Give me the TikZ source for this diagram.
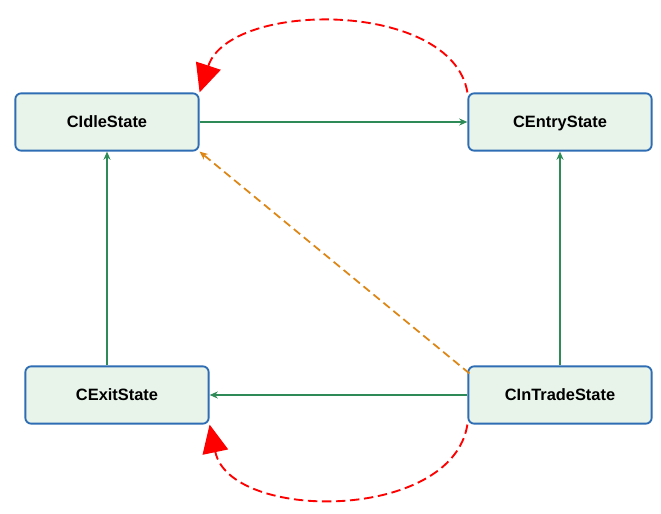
\documentclass[tikz,border=0pt]{standalone}
\usepackage{fontspec}
\setmainfont{Liberation Sans}
\usetikzlibrary{arrows.meta,positioning}

\definecolor{boxline}{RGB}{46,109,180}
\definecolor{boxfill}{RGB}{232,243,234}
\definecolor{flowgreen}{RGB}{46,139,87}
\definecolor{backorange}{RGB}{222,134,20}

\tikzset{
	state/.style={draw=boxline, line width=1.6pt, rounded corners=5pt, fill=boxfill,
		minimum width=5.5cm, minimum height=1.72cm, text depth=0.2ex, font=\fontsize{14}{16}\selectfont\bfseries},
	flow/.style={draw=flowgreen, line width=1.5pt, -{Stealth[length=7pt,width=6pt]}},
	back/.style={draw=backorange, line width=1.5pt, dash pattern=on 7pt off 4pt, -{Stealth[length=7pt,width=6pt]}},
	loop/.style={draw=red, line width=1.6pt, dash pattern=on 8pt off 4pt, -{Triangle[length=24pt,width=22pt,fill=red]}}
}

\begin{document}
\begin{tikzpicture}[x=0.03cm,y=-0.03cm]
		\useasboundingbox (0,0) rectangle (661,514);
		
		\node[state] (idle) at (107,122) {CIdleState};
		\node[state] (entry) at (560,122) {CEntryState};
		\node[state] (exit) at (117,395) {CExitState};
		\node[state] (trade) at (560,395) {CInTradeState};
		
		\draw[flow] (idle) -- (entry);
		\draw[flow] (trade) -- (entry);
		\draw[flow] (trade) -- (exit);
		\draw[flow] (idle.south |- exit.north) -- (idle.south);
		\draw[back] (trade.north west) ++(2,8) coordinate (tb) -- (idle.south east);
		
		\draw[loop] (entry.north west) .. controls (452,0) and (230,0) .. (idle.north east);
		\draw[loop] (trade.south west) .. controls (452,522) and (230,522) .. (exit.south east);
	\end{tikzpicture}
\end{document}
